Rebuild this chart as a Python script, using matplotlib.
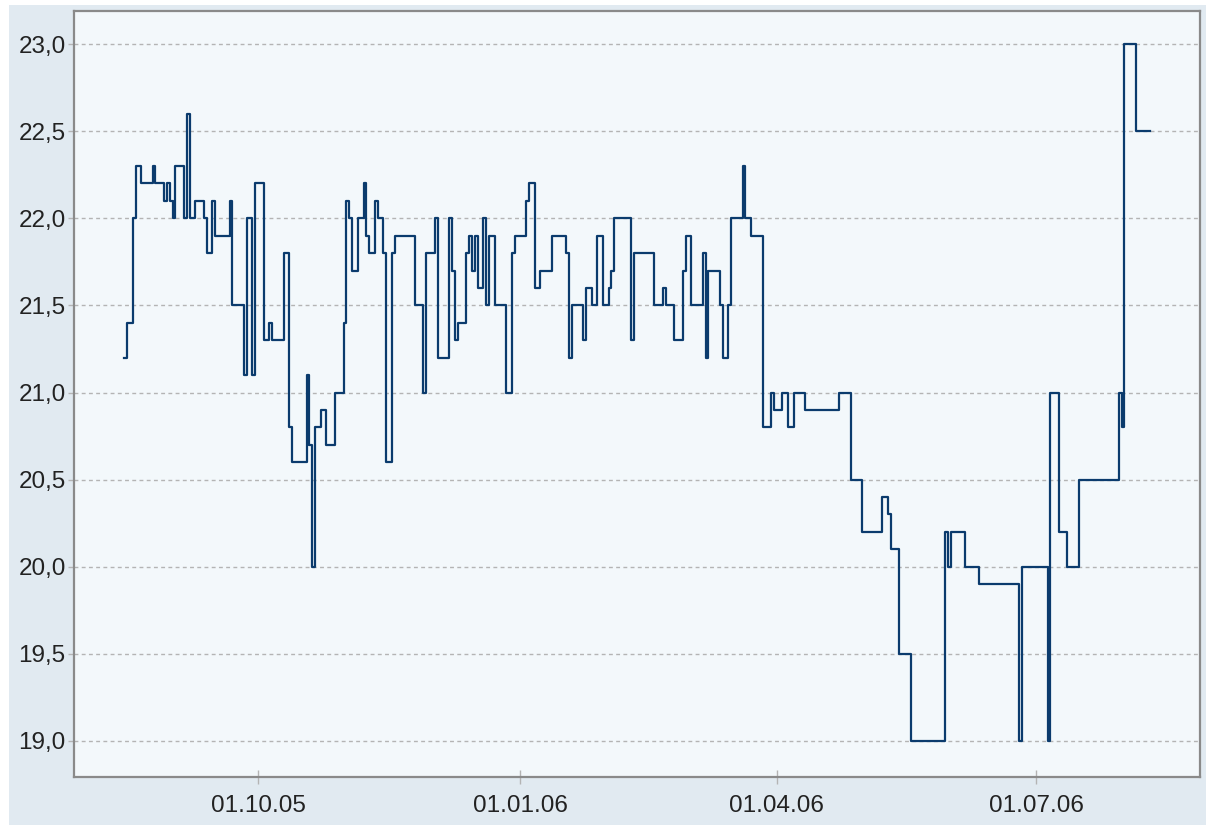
import numpy as np
import pandas as pd
import matplotlib
matplotlib.use("Agg")
import matplotlib.pyplot as plt
import matplotlib.dates as mdates
from matplotlib.ticker import FuncFormatter, FixedLocator
from matplotlib.patches import Rectangle

# Kursverlauf (Tageswerte, Stufenlinie)
dates = [
    "2005-08-15", "2005-08-16", "2005-08-18", "2005-08-19", "2005-08-21", "2005-08-25",
    "2005-08-26", "2005-08-29", "2005-08-30", "2005-08-31", "2005-09-01", "2005-09-02",
    "2005-09-05", "2005-09-06", "2005-09-07", "2005-09-09", "2005-09-12", "2005-09-13",
    "2005-09-15", "2005-09-16", "2005-09-21", "2005-09-22", "2005-09-26", "2005-09-27",
    "2005-09-29", "2005-09-30", "2005-10-03", "2005-10-05", "2005-10-06", "2005-10-10",
    "2005-10-12", "2005-10-13", "2005-10-18", "2005-10-19", "2005-10-20", "2005-10-21",
    "2005-10-23", "2005-10-25", "2005-10-28", "2005-10-31", "2005-11-01", "2005-11-02",
    "2005-11-03", "2005-11-05", "2005-11-07", "2005-11-08", "2005-11-09", "2005-11-11",
    "2005-11-12", "2005-11-14", "2005-11-15", "2005-11-17", "2005-11-18", "2005-11-25",
    "2005-11-28", "2005-11-29", "2005-12-02", "2005-12-03", "2005-12-07", "2005-12-08",
    "2005-12-09", "2005-12-10", "2005-12-13", "2005-12-14", "2005-12-15", "2005-12-16",
    "2005-12-17", "2005-12-19", "2005-12-20", "2005-12-21", "2005-12-23", "2005-12-27",
    "2005-12-29", "2005-12-30", "2006-01-03", "2006-01-04", "2006-01-06", "2006-01-08",
    "2006-01-12", "2006-01-17", "2006-01-18", "2006-01-19", "2006-01-23", "2006-01-24",
    "2006-01-26", "2006-01-28", "2006-01-30", "2006-02-01", "2006-02-02", "2006-02-03",
    "2006-02-09", "2006-02-10", "2006-02-17", "2006-02-20", "2006-02-21", "2006-02-24",
    "2006-02-27", "2006-02-28", "2006-03-02", "2006-03-06", "2006-03-07", "2006-03-08",
    "2006-03-12", "2006-03-13", "2006-03-15", "2006-03-16", "2006-03-20", "2006-03-21",
    "2006-03-23", "2006-03-27", "2006-03-30", "2006-03-31", "2006-04-03", "2006-04-05",
    "2006-04-07", "2006-04-11", "2006-04-23", "2006-04-27", "2006-05-01", "2006-05-08",
    "2006-05-10", "2006-05-11", "2006-05-14", "2006-05-18", "2006-05-30", "2006-05-31",
    "2006-06-01", "2006-06-06", "2006-06-11", "2006-06-25", "2006-06-26", "2006-07-05",
    "2006-07-06", "2006-07-09", "2006-07-12", "2006-07-16", "2006-07-30", "2006-07-31",
    "2006-08-01", "2006-08-05", "2006-08-10",
]
prices = [
    21.2, 21.4, 22.0, 22.3, 22.2, 22.3,
    22.2, 22.1, 22.2, 22.1, 22.0, 22.3,
    22.0, 22.6, 22.0, 22.1, 22.0, 21.8,
    22.1, 21.9, 22.1, 21.5, 21.1, 22.0,
    21.1, 22.2, 21.3, 21.4, 21.3, 21.8,
    20.8, 20.6, 21.1, 20.7, 20.0, 20.8,
    20.9, 20.7, 21.0, 21.4, 22.1, 22.0,
    21.7, 22.0, 22.2, 21.9, 21.8, 22.1,
    22.0, 21.8, 20.6, 21.8, 21.9, 21.5,
    21.0, 21.8, 22.0, 21.2, 22.0, 21.7,
    21.3, 21.4, 21.8, 21.9, 21.7, 21.9,
    21.6, 22.0, 21.5, 21.9, 21.5, 21.0,
    21.8, 21.9, 22.1, 22.2, 21.6, 21.7,
    21.9, 21.8, 21.2, 21.5, 21.3, 21.6,
    21.5, 21.9, 21.5, 21.6, 21.7, 22.0,
    21.3, 21.8, 21.5, 21.6, 21.5, 21.3,
    21.7, 21.9, 21.5, 21.8, 21.2, 21.7,
    21.5, 21.2, 21.5, 22.0, 22.3, 22.0,
    21.9, 20.8, 21.0, 20.9, 21.0, 20.8,
    21.0, 20.9, 21.0, 20.5, 20.2, 20.4,
    20.3, 20.1, 19.5, 19.0, 20.2, 20.0,
    20.2, 20.0, 19.9, 19.0, 20.0, 19.0,
    21.0, 20.2, 20.0, 20.5, 21.0, 20.8,
    23.0, 22.5, 22.5,
]

y_ticks = [19.0, 19.5, 20.0, 20.5, 21.0, 21.5, 22.0, 22.5, 23.0]
x_ticks = ["2005-10-01", "2006-01-01", "2006-04-01", "2006-07-01"]

x = pd.to_datetime(dates)

plt.rcParams['font.family'] = ['Liberation Sans', 'DejaVu Sans']

W, H = 1206, 825
fig = plt.figure(figsize=(W / 100, H / 100), dpi=100, facecolor='white')
# hellblauer Hintergrund
fig.patches.append(Rectangle((9 / W, 0), 1 - 9 / W, 1 - 5 / H, transform=fig.transFigure,
                             facecolor='#e1eaf1', edgecolor='none', zorder=-10))

ax = fig.add_axes([74 / W, 1 - 777 / H, (1200 - 74) / W, (777 - 11) / H])
ax.set_facecolor('#f3f8fb')

ax.step(x, prices, where='post', color='#0b3b6d', lw=1.6, zorder=3)

ax.set_ylim(18.793, 23.19)
ax.set_xlim(pd.Timestamp("2005-07-28 10:00"), pd.Timestamp("2006-08-27 12:00"))

ax.yaxis.set_major_locator(FixedLocator(y_ticks))
ax.yaxis.set_major_formatter(FuncFormatter(lambda v, p: f"{v:.1f}".replace('.', ',')))
ax.xaxis.set_major_locator(FixedLocator(mdates.date2num(pd.to_datetime(x_ticks))))
ax.xaxis.set_major_formatter(mdates.DateFormatter('%d.%m.%y'))

ax.grid(axis='y', color='#b4b4b4', lw=1, linestyle=(0, (2.8, 2.4)), zorder=1)
ax.grid(axis='x', visible=False)

for s in ax.spines.values():
    s.set_color('#8a8a8a')
    s.set_linewidth(1.6)

ax.tick_params(axis='y', direction='out', length=4, width=1, color='#b4b4b4',
               labelsize=17.5, labelcolor='#222222', pad=2)
ax.tick_params(axis='x', direction='inout', length=9.5, width=1, color='#b4b4b4',
               labelsize=17.5, labelcolor='#222222', pad=8)

fig.savefig('out.png', dpi=100, facecolor=fig.get_facecolor())
